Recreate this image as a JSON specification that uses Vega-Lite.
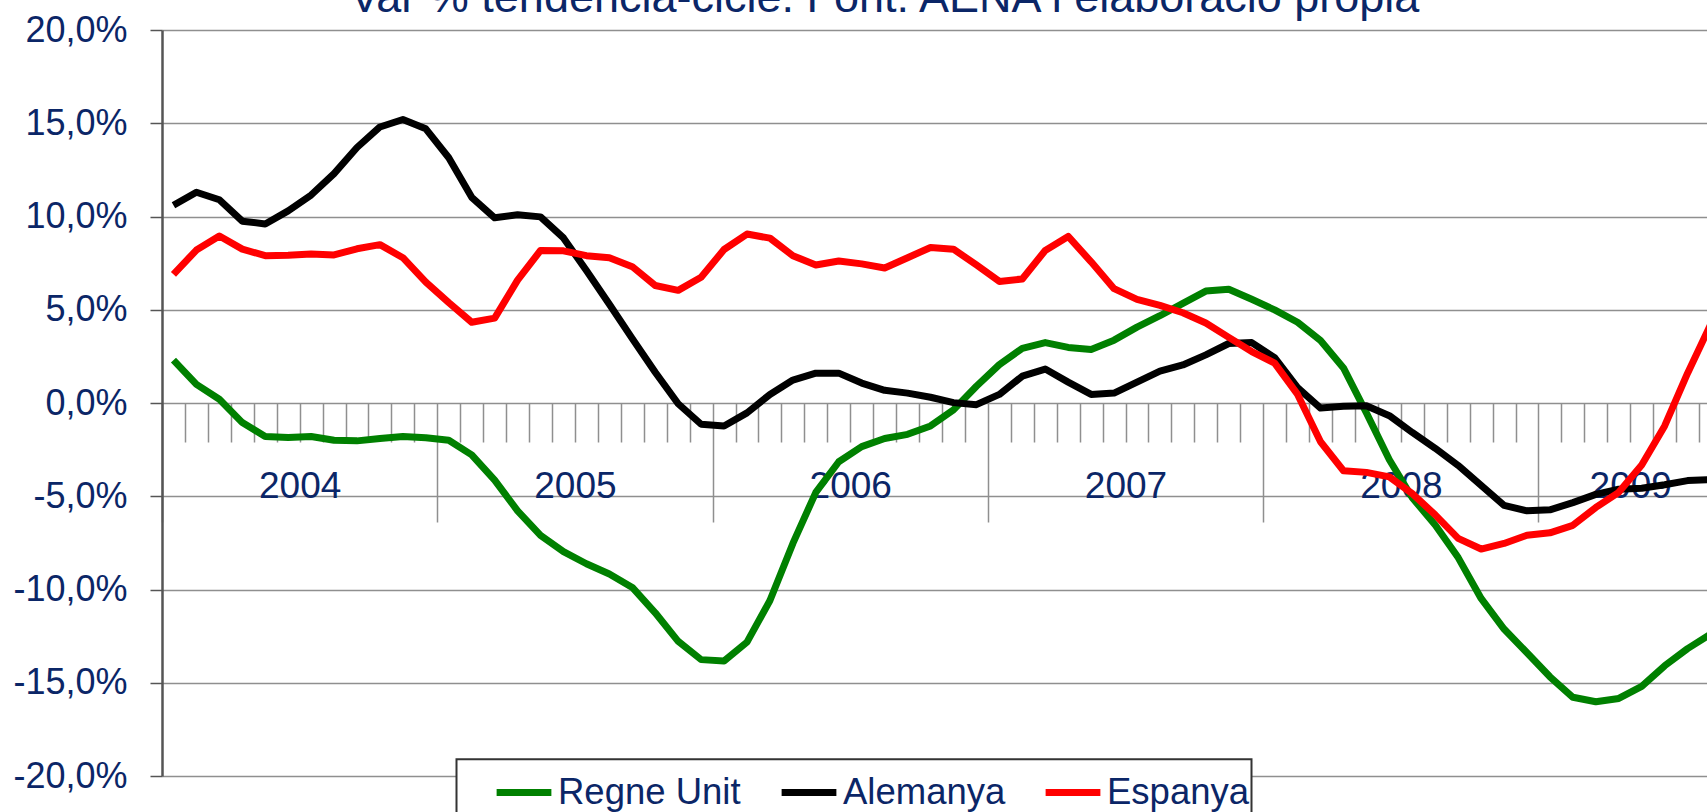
{
  "$schema": "https://vega.github.io/schema/vega-lite/v6.json",
  "width": 1545,
  "height": 746,
  "autosize": "none",
  "padding": {"left": 162, "top": 30, "right": 0, "bottom": 36},
  "background": "white",
  "title": {
    "text": "Var % tendència-cicle. Font: AENA i elaboració pròpia",
    "font": "Liberation Sans",
    "fontSize": 45,
    "fontWeight": "normal",
    "color": "#0b2667",
    "anchor": "middle",
    "frame": "group",
    "dx": -50,
    "dy": 36,
    "baseline": "alphabetic",
    "offset": -9
  },
  "data": {
    "values": [
      {"mes": "2004-01", "Regne Unit": 2.3, "Alemanya": 10.6, "Espanya": 6.9},
      {"mes": "2004-02", "Regne Unit": 1.0, "Alemanya": 11.3, "Espanya": 8.2},
      {"mes": "2004-03", "Regne Unit": 0.2, "Alemanya": 10.9, "Espanya": 8.95},
      {"mes": "2004-04", "Regne Unit": -1.05, "Alemanya": 9.75, "Espanya": 8.25},
      {"mes": "2004-05", "Regne Unit": -1.8, "Alemanya": 9.6, "Espanya": 7.9},
      {"mes": "2004-06", "Regne Unit": -1.85, "Alemanya": 10.3, "Espanya": 7.92},
      {"mes": "2004-07", "Regne Unit": -1.8, "Alemanya": 11.15, "Espanya": 7.99},
      {"mes": "2004-08", "Regne Unit": -2.0, "Alemanya": 12.3, "Espanya": 7.94},
      {"mes": "2004-09", "Regne Unit": -2.03, "Alemanya": 13.7, "Espanya": 8.27},
      {"mes": "2004-10", "Regne Unit": -1.9, "Alemanya": 14.8, "Espanya": 8.49},
      {"mes": "2004-11", "Regne Unit": -1.8, "Alemanya": 15.2, "Espanya": 7.79},
      {"mes": "2004-12", "Regne Unit": -1.86, "Alemanya": 14.7, "Espanya": 6.48},
      {"mes": "2005-01", "Regne Unit": -2.0, "Alemanya": 13.15, "Espanya": 5.38},
      {"mes": "2005-02", "Regne Unit": -2.78, "Alemanya": 11.03, "Espanya": 4.33},
      {"mes": "2005-03", "Regne Unit": -4.14, "Alemanya": 9.93, "Espanya": 4.55},
      {"mes": "2005-04", "Regne Unit": -5.78, "Alemanya": 10.09, "Espanya": 6.59},
      {"mes": "2005-05", "Regne Unit": -7.1, "Alemanya": 9.98, "Espanya": 8.18},
      {"mes": "2005-06", "Regne Unit": -7.97, "Alemanya": 8.85, "Espanya": 8.16},
      {"mes": "2005-07", "Regne Unit": -8.62, "Alemanya": 7.1, "Espanya": 7.9},
      {"mes": "2005-08", "Regne Unit": -9.17, "Alemanya": 5.3, "Espanya": 7.79},
      {"mes": "2005-09", "Regne Unit": -9.89, "Alemanya": 3.45, "Espanya": 7.31},
      {"mes": "2005-10", "Regne Unit": -11.25, "Alemanya": 1.65, "Espanya": 6.3},
      {"mes": "2005-11", "Regne Unit": -12.78, "Alemanya": -0.04, "Espanya": 6.04},
      {"mes": "2005-12", "Regne Unit": -13.76, "Alemanya": -1.14, "Espanya": 6.74},
      {"mes": "2006-01", "Regne Unit": -13.83, "Alemanya": -1.23, "Espanya": 8.23},
      {"mes": "2006-02", "Regne Unit": -12.82, "Alemanya": -0.53, "Espanya": 9.06},
      {"mes": "2006-03", "Regne Unit": -10.59, "Alemanya": 0.46, "Espanya": 8.84},
      {"mes": "2006-04", "Regne Unit": -7.53, "Alemanya": 1.23, "Espanya": 7.9},
      {"mes": "2006-05", "Regne Unit": -4.79, "Alemanya": 1.6, "Espanya": 7.4},
      {"mes": "2006-06", "Regne Unit": -3.15, "Alemanya": 1.6, "Espanya": 7.61},
      {"mes": "2006-07", "Regne Unit": -2.34, "Alemanya": 1.07, "Espanya": 7.46},
      {"mes": "2006-08", "Regne Unit": -1.9, "Alemanya": 0.68, "Espanya": 7.24},
      {"mes": "2006-09", "Regne Unit": -1.68, "Alemanya": 0.53, "Espanya": 7.79},
      {"mes": "2006-10", "Regne Unit": -1.23, "Alemanya": 0.31, "Espanya": 8.34},
      {"mes": "2006-11", "Regne Unit": -0.37, "Alemanya": 0.02, "Espanya": 8.25},
      {"mes": "2006-12", "Regne Unit": 0.9, "Alemanya": -0.09, "Espanya": 7.4},
      {"mes": "2007-01", "Regne Unit": 2.06, "Alemanya": 0.46, "Espanya": 6.52},
      {"mes": "2007-02", "Regne Unit": 2.93, "Alemanya": 1.44, "Espanya": 6.65},
      {"mes": "2007-03", "Regne Unit": 3.24, "Alemanya": 1.82, "Espanya": 8.18},
      {"mes": "2007-04", "Regne Unit": 2.98, "Alemanya": 1.12, "Espanya": 8.93},
      {"mes": "2007-05", "Regne Unit": 2.87, "Alemanya": 0.46, "Espanya": 7.57},
      {"mes": "2007-06", "Regne Unit": 3.37, "Alemanya": 0.53, "Espanya": 6.13},
      {"mes": "2007-07", "Regne Unit": 4.07, "Alemanya": 1.12, "Espanya": 5.56},
      {"mes": "2007-08", "Regne Unit": 4.68, "Alemanya": 1.71, "Espanya": 5.23},
      {"mes": "2007-09", "Regne Unit": 5.34, "Alemanya": 2.04, "Espanya": 4.84},
      {"mes": "2007-10", "Regne Unit": 6.0, "Alemanya": 2.58, "Espanya": 4.29},
      {"mes": "2007-11", "Regne Unit": 6.1, "Alemanya": 3.19, "Espanya": 3.52},
      {"mes": "2007-12", "Regne Unit": 5.56, "Alemanya": 3.24, "Espanya": 2.76},
      {"mes": "2008-01", "Regne Unit": 4.99, "Alemanya": 2.43, "Espanya": 2.14},
      {"mes": "2008-02", "Regne Unit": 4.33, "Alemanya": 0.83, "Espanya": 0.46},
      {"mes": "2008-03", "Regne Unit": 3.35, "Alemanya": -0.27, "Espanya": -2.08},
      {"mes": "2008-04", "Regne Unit": 1.88, "Alemanya": -0.18, "Espanya": -3.63},
      {"mes": "2008-05", "Regne Unit": -0.53, "Alemanya": -0.15, "Espanya": -3.72},
      {"mes": "2008-06", "Regne Unit": -3.04, "Alemanya": -0.68, "Espanya": -3.96},
      {"mes": "2008-07", "Regne Unit": -5.08, "Alemanya": -1.58, "Espanya": -4.86},
      {"mes": "2008-08", "Regne Unit": -6.54, "Alemanya": -2.43, "Espanya": -6.0},
      {"mes": "2008-09", "Regne Unit": -8.29, "Alemanya": -3.35, "Espanya": -7.26},
      {"mes": "2008-10", "Regne Unit": -10.48, "Alemanya": -4.42, "Espanya": -7.83},
      {"mes": "2008-11", "Regne Unit": -12.12, "Alemanya": -5.49, "Espanya": -7.53},
      {"mes": "2008-12", "Regne Unit": -13.39, "Alemanya": -5.78, "Espanya": -7.09},
      {"mes": "2009-01", "Regne Unit": -14.68, "Alemanya": -5.73, "Espanya": -6.96},
      {"mes": "2009-02", "Regne Unit": -15.78, "Alemanya": -5.34, "Espanya": -6.56},
      {"mes": "2009-03", "Regne Unit": -16.02, "Alemanya": -4.9, "Espanya": -5.6},
      {"mes": "2009-04", "Regne Unit": -15.84, "Alemanya": -4.62, "Espanya": -4.79},
      {"mes": "2009-05", "Regne Unit": -15.19, "Alemanya": -4.57, "Espanya": -3.33},
      {"mes": "2009-06", "Regne Unit": -14.09, "Alemanya": -4.38, "Espanya": -1.23},
      {"mes": "2009-07", "Regne Unit": -13.17, "Alemanya": -4.16, "Espanya": 1.6},
      {"mes": "2009-08", "Regne Unit": -12.4, "Alemanya": -4.1, "Espanya": 4.2}
    ]
  },
  "transform": [
    {"fold": ["Regne Unit", "Alemanya", "Espanya"], "as": ["serie", "valor"]}
  ],
  "mark": {"type": "line", "strokeWidth": 7, "clip": true, "strokeJoin": "round", "strokeCap": "butt"},
  "encoding": {
    "x": {
      "field": "mes",
      "type": "ordinal",
      "scale": {"type": "point", "padding": 0.5, "range": [0, 1560]},
      "axis": {
        "orient": "bottom",
        "offset": -373,
        "domain": false,
        "grid": false,
        "title": null,
        "tickColor": "#8f8f8f",
        "tickWidth": 1.5,
        "tickSize": {"condition": {"test": "slice(datum.value, 5) === '01'", "value": 119}, "value": 39},
        "tickOffset": -11.47,
        "labelExpr": "((slice(datum.value, 5) === '07' && slice(datum.value, 0, 4) !== '2009') || datum.value === '2009-05') ? slice(datum.value, 0, 4) : ''",
        "labelAngle": 0,
        "labelOverlap": false,
        "labelFont": "Liberation Sans",
        "labelFontSize": 37,
        "labelColor": "#0b2667",
        "labelBaseline": "alphabetic",
        "labelPadding": 55
      }
    },
    "y": {
      "field": "valor",
      "type": "quantitative",
      "scale": {"domain": [-20, 20], "nice": false, "zero": false},
      "axis": {
        "values": [-20, -15, -10, -5, 0, 5, 10, 15, 20],
        "title": null,
        "grid": true,
        "gridColor": "#8f8f8f",
        "gridWidth": 1.5,
        "domain": true,
        "domainColor": "#555555",
        "domainWidth": 2.5,
        "tickColor": "#555555",
        "tickWidth": 1.5,
        "tickSize": 12,
        "labelPadding": 23,
        "labelFont": "Liberation Sans",
        "labelFontSize": 36,
        "labelColor": "#0b2667",
        "labelExpr": "replace(replace(format(datum.value, '.1f'), '.', ','), '\u2212', '-') + '%'"
      }
    },
    "color": {
      "field": "serie",
      "type": "nominal",
      "scale": {"domain": ["Regne Unit", "Alemanya", "Espanya"], "range": ["#008000", "#000000", "#ff0000"]},
      "legend": {
        "orient": "none",
        "legendX": 294.5,
        "legendY": 729.3,
        "direction": "horizontal",
        "title": null,
        "fillColor": "white",
        "strokeColor": "#333333",
        "padding": 2,
        "symbolType": "stroke",
        "symbolSize": 3000,
        "symbolStrokeWidth": 7,
        "symbolOffset": 34.5,
        "labelOffset": 3,
        "columnPadding": 2,
        "labelFont": "Liberation Sans",
        "labelFontSize": 36.5,
        "labelColor": "#0b2667",
        "labelLimit": 0
      }
    }
  },
  "config": {"view": {"stroke": null}, "legend": {"strokeWidth": 2}}
}
